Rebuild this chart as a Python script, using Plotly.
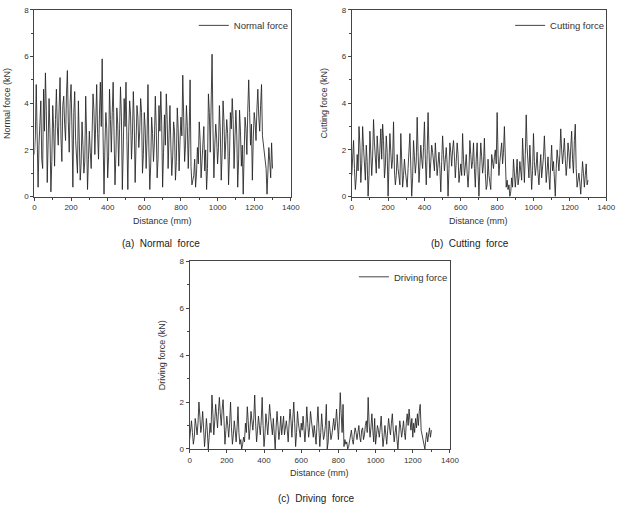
import plotly.graph_objects as go

distance = list(range(0, 1305, 5))

normal_force = [
    1.8, 2.6, 4.8, 3.1, 0.4, 2.2, 3.6, 4.1, 1.6, 1.2,
    4.6, 2.8, 5.3, 3.7, 0.6, 1.9, 4.2, 2.7, 0.2, 1.5,
    3.9, 2.9, 1.3, 3.3, 4.6, 3.0, 2.2, 3.8, 5.1, 2.5,
    1.5, 3.9, 4.3, 3.1, 2.4, 4.4, 5.4, 3.2, 1.9, 4.0,
    4.8, 2.9, 0.4, 3.6, 4.5, 2.4, 1.3, 1.0, 4.1, 1.8,
    0.7, 1.4, 3.2, 2.2, 1.0, 1.5, 4.3, 2.6, 0.3, 1.6,
    2.8, 1.9, 1.2, 2.7, 4.4, 3.7, 1.8, 3.2, 4.8, 2.7,
    1.6, 3.5, 4.9, 3.0, 5.9, 2.5, 0.1, 2.2, 3.6, 2.9,
    0.8, 1.7, 4.6, 3.3, 1.9, 3.6, 4.9, 2.6, 0.5, 1.8,
    3.8, 3.1, 1.3, 2.9, 4.7, 3.4, 0.3, 2.0, 4.2, 3.0,
    4.9, 2.4, 0.3, 2.8, 4.1, 3.5, 1.6, 2.6, 4.5, 3.2,
    0.6, 2.3, 3.9, 3.4, 2.1, 2.8, 4.2, 3.6, 1.0, 1.8,
    3.6, 2.9, 1.2, 2.5, 4.8, 2.1, 0.3, 1.4, 3.4, 2.7,
    1.5, 2.3, 4.3, 3.0, 0.8, 1.6, 3.9, 2.8, 4.5, 3.1,
    0.4, 1.9, 3.5, 2.2, 4.4, 3.3, 1.2, 2.6, 3.9, 2.2,
    0.9, 1.7, 3.2, 2.8, 0.7, 1.5, 3.8, 2.9, 1.1, 2.4,
    3.4, 2.6, 5.2, 3.4, 1.5, 2.2, 3.9, 3.0, 1.2, 2.7,
    5.0, 1.3, 0.5, 0.7, 0.9, 1.6, 0.4, 1.0, 2.1, 1.4,
    3.2, 2.4, 0.8, 1.5, 2.7, 3.0, 1.1, 2.0, 0.3, 1.2,
    4.4, 3.6, 1.9, 4.7, 6.1, 2.9, 0.8, 2.2, 3.1, 2.5,
    1.4, 2.1, 3.9, 2.8, 0.7, 1.9, 4.1, 3.2, 1.6, 2.4,
    3.3, 2.7, 0.5, 1.7, 3.6, 2.9, 4.2, 3.3, 1.2, 2.5,
    3.7, 2.6, 0.4, 1.6, 3.7, 2.8, 1.3, 2.2, 0.1, 1.8,
    3.4, 2.9, 1.8, 3.7, 5.0, 3.6, 2.2, 3.1, 0.7, 2.5,
    3.6, 3.2, 2.4, 3.8, 4.6, 3.4, 2.8, 3.9, 4.8, 2.6,
    2.3, 1.9, 1.6, 1.2, 0.1, 1.7, 2.1, 1.5, 0.8, 2.3,
    1.2,
]

cutting_force = [
    0.9, 1.6, 2.4, 1.2, 0.3, 0.8, 1.8, 1.1, 3.0, 2.2,
    0.6, 1.4, 3.0, 2.1, 1.1, 0.7, 2.2, 1.5, 0.0, 0.9,
    2.8, 1.9, 0.9, 1.7, 3.3, 2.3, 1.4, 1.0, 2.6, 1.8,
    1.2, 2.0, 2.9, 1.6, 3.1, 2.4, 0.8, 1.3, 2.6, 1.9,
    0.0, 1.4, 2.7, 1.9, 1.2, 1.6, 3.2, 1.1, 0.5, 0.9,
    1.8, 1.2, 0.8, 0.5, 2.7, 1.5, 0.4, 0.9, 1.6, 1.1,
    0.7, 0.4, 1.2, 1.9, 2.7, 1.3, 0.0, 0.8, 2.4, 1.7,
    1.0, 1.5, 3.4, 1.9, 0.6, 1.3, 2.2, 1.6, 1.2, 2.1,
    3.2, 1.6, 0.5, 1.8, 3.6, 2.0, 0.8, 1.5, 2.2, 1.9,
    1.4, 1.1, 2.3, 1.7, 0.9, 1.4, 1.9, 1.2, 0.2, 1.5,
    2.6, 1.8, 1.1, 1.6, 2.1, 1.4, 0.0, 1.2, 2.3, 1.9,
    1.3, 2.0, 2.4, 1.7, 0.8, 1.5, 2.3, 1.8, 0.6, 1.0,
    1.4, 0.9, 2.7, 1.6, 0.9, 1.3, 1.8, 1.0, 0.4, 1.1,
    2.4, 1.8, 1.2, 1.5, 2.3, 1.2, 0.4, 1.6, 2.3, 1.1,
    0.0, 1.3, 2.3, 1.7, 1.0, 1.4, 2.5, 1.0, 0.3, 0.5,
    1.6, 0.9, 0.6, 0.3, 1.8, 1.4, 1.2, 1.7, 2.0, 1.4,
    3.6, 1.8, 0.9, 1.5, 2.1, 2.3, 1.4, 1.9, 3.0, 1.3,
    0.4, 0.7, 0.3, 0.5, 0.0, 0.2, 0.8, 0.4, 1.6, 1.0,
    0.4, 0.9, 1.6, 0.5, 0.8, 1.5, 1.2, 0.7, 2.5, 1.4,
    0.6, 1.8, 3.5, 2.1, 1.2, 0.8, 2.2, 1.3, 0.3, 1.1,
    2.7, 1.5, 0.9, 1.3, 1.9, 1.0, 0.5, 1.2, 1.8, 0.8,
    1.2, 1.7, 2.6, 1.4, 0.6, 1.1, 1.7, 0.9, 0.3, 1.4,
    2.2, 1.1, 1.5, 0.8, 0.0, 1.2, 2.0, 1.6, 1.1, 1.8,
    2.9, 2.0, 1.4, 1.9, 2.5, 1.6, 0.9, 1.4, 2.3, 1.9,
    1.2, 2.1, 2.8, 1.6, 1.0, 2.4, 3.1, 1.2, 0.4, 0.7,
    1.0, 0.6, 0.1, 0.8, 1.5, 1.0, 0.4, 0.9, 1.4, 0.5,
    0.7,
]

driving_force = [
    0.4, 0.9, 1.2, 0.7, 0.2, 0.5, 1.3, 1.0, 0.6, 1.1,
    2.0, 1.4, 0.7, 1.0, 1.6, 0.9, 0.1, 0.6, 1.3, 0.8,
    0.0, 0.5, 1.1, 0.7, 2.3, 1.5, 0.6, 1.2, 1.9, 1.4,
    0.9, 1.6, 2.2, 1.5, 1.0, 1.7, 2.1, 1.2, 0.2, 0.8,
    1.4, 1.0, 0.5, 1.1, 2.0, 0.9, 0.2, 0.6, 1.2, 0.8,
    0.3, 0.9, 1.8, 0.7, 0.2, 0.4, 0.0, 0.2, 0.5, 0.3,
    1.1, 0.7, 1.8, 1.2, 0.4, 0.9, 1.6, 1.2, 0.8, 1.3,
    2.3, 1.1, 0.3, 0.8, 1.4, 1.0, 0.6, 1.2, 2.2, 1.0,
    0.1, 0.6, 1.5, 1.1, 0.6, 1.2, 1.9, 1.4, 0.9, 0.6,
    1.3, 0.7, 0.0, 0.9, 1.6, 1.0, 0.4, 0.8, 1.4, 0.6,
    1.0, 1.4, 0.6, 0.9, 1.2, 0.8, 0.3, 1.1, 1.7, 1.2,
    0.5, 1.3, 2.0, 1.1, 0.1, 0.7, 1.6, 1.1, 0.7, 0.5,
    1.1, 0.8, 1.4, 1.0, 0.3, 0.9, 1.8, 1.1, 0.5, 0.9,
    1.6, 1.2, 0.8, 0.5, 1.0, 0.7, 0.2, 1.1, 1.8, 0.9,
    0.1, 0.7, 1.5, 0.9, 0.4, 0.6, 1.0, 1.9, 0.0, 0.3,
    1.2, 0.8, 0.4, 0.6, 1.0, 1.3, 0.8, 1.1, 1.7, 0.9,
    0.4, 1.2, 2.4, 1.5, 0.7, 1.9, 0.1, 0.4, 0.2, 0.3,
    0.0, 0.1, 0.3, 0.5, 0.8, 0.4, 0.2, 0.6, 0.9, 0.7,
    0.4, 0.7, 1.0, 0.5, 0.3, 0.8, 0.9, 0.4, 0.6, 1.0,
    1.2, 0.7, 2.2, 1.1, 0.5, 0.9, 1.5, 0.8, 0.3, 1.3,
    0.2, 0.6, 1.0, 0.8, 0.5, 0.9, 1.4, 0.7, 0.1, 0.5,
    1.0, 0.6, 0.2, 0.8, 1.3, 0.9, 0.6, 1.1, 1.5, 0.8,
    0.3, 0.7, 1.0, 0.4, 0.0, 0.6, 1.2, 0.9, 0.5, 0.8,
    1.2, 0.7, 0.4, 1.1, 1.5, 1.0, 1.7, 1.2, 0.8, 1.3,
    0.5, 1.1, 0.7, 1.3, 0.9, 1.5, 1.0, 1.6, 1.9, 0.8,
    0.6, 0.3, 0.1, 0.0, 0.4, 0.7, 0.3, 0.6, 0.9, 0.5,
    0.8,
]

series_names = ["Normal force", "Cutting force", "Driving force"]
y_titles = ["Normal force (kN)", "Cutting force (kN)", "Driving force (kN)"]
captions = ["(a)  Normal  force", "(b)  Cutting  force", "(c)  Driving  force"]
x_ticks = [0, 200, 400, 600, 800, 1000, 1200, 1400]
y_ticks = [0, 2, 4, 6, 8]

W, H = 625, 506
FONT = "Liberation Sans, Arial, sans-serif"
INK = "#333333"

# pixel boxes of the three plot areas: (left, right, top, bottom)
boxes = [(33, 294, 6, 196), (356, 615, 6, 196), (191, 456, 262, 453)]
caption_centre = [162, 476, 320]
caption_drop = [48, 48, 50]

fig = go.Figure()
data = [normal_force, cutting_force, driving_force]

for i, (vals, name) in enumerate(zip(data, series_names)):
    sfx = "" if i == 0 else str(i + 1)
    fig.add_trace(go.Scatter(
        x=distance, y=vals, mode="lines", name=name,
        line=dict(color="#222222", width=0.85),
        xaxis="x" + sfx, yaxis="y" + sfx,
        legend="legend" + sfx,
    ))

layout = dict(
    width=W, height=H,
    margin=dict(l=0, r=0, t=0, b=0),
    paper_bgcolor="white", plot_bgcolor="white",
    font=dict(family=FONT, color=INK, size=8),
    annotations=[], showlegend=True,
)

for i, (l, r, t, b) in enumerate(boxes):
    sfx = "" if i == 0 else str(i + 1)
    common = dict(
        showline=True, linecolor="#444444", linewidth=1, mirror=True,
        showgrid=False, zeroline=False, ticks="outside", ticklen=3,
        tickwidth=1, tickcolor="#444444",
        tickfont=dict(size=8, color=INK, family=FONT),
        minor=dict(ticks="outside", ticklen=2, tickcolor="#444444", showgrid=False),
    )
    layout["xaxis" + sfx] = dict(
        common, domain=[l / W, r / W], range=[0, 1400],
        tickvals=x_ticks, anchor="y" + sfx,
        minor=dict(common["minor"], dtick=100),
    )
    layout["yaxis" + sfx] = dict(
        common, domain=[1 - b / H, 1 - t / H], range=[0, 8],
        tickvals=y_ticks, anchor="x" + sfx,
        minor=dict(common["minor"], dtick=1),
    )
    layout["legend" + sfx] = dict(
        x=(r + 3) / W, xanchor="right", y=1 - (t + 1) / H, yanchor="top",
        bgcolor="rgba(0,0,0,0)", font=dict(size=9.5, color=INK, family=FONT),
        itemwidth=30,
    )
    layout["annotations"].append(dict(
        text="Distance (mm)", xref="paper", yref="paper",
        x=(l + r) / 2 / W, y=1 - (b + 25) / H, xanchor="center", yanchor="middle",
        showarrow=False, font=dict(size=9, color=INK, family=FONT),
    ))
    layout["annotations"].append(dict(
        text=y_titles[i], xref="paper", yref="paper", textangle=-90,
        x=(l - 28) / W, y=1 - (t + b) / 2 / H, xanchor="center", yanchor="middle",
        showarrow=False, font=dict(size=9, color=INK, family=FONT),
    ))
    layout["annotations"].append(dict(
        text=captions[i], xref="paper", yref="paper",
        x=caption_centre[i] / W, y=1 - (b + caption_drop[i]) / H,
        xanchor="center", yanchor="middle",
        showarrow=False, font=dict(size=10, color="#222222", family=FONT),
    ))

fig.update_layout(**layout)
fig.write_html("out.html")
